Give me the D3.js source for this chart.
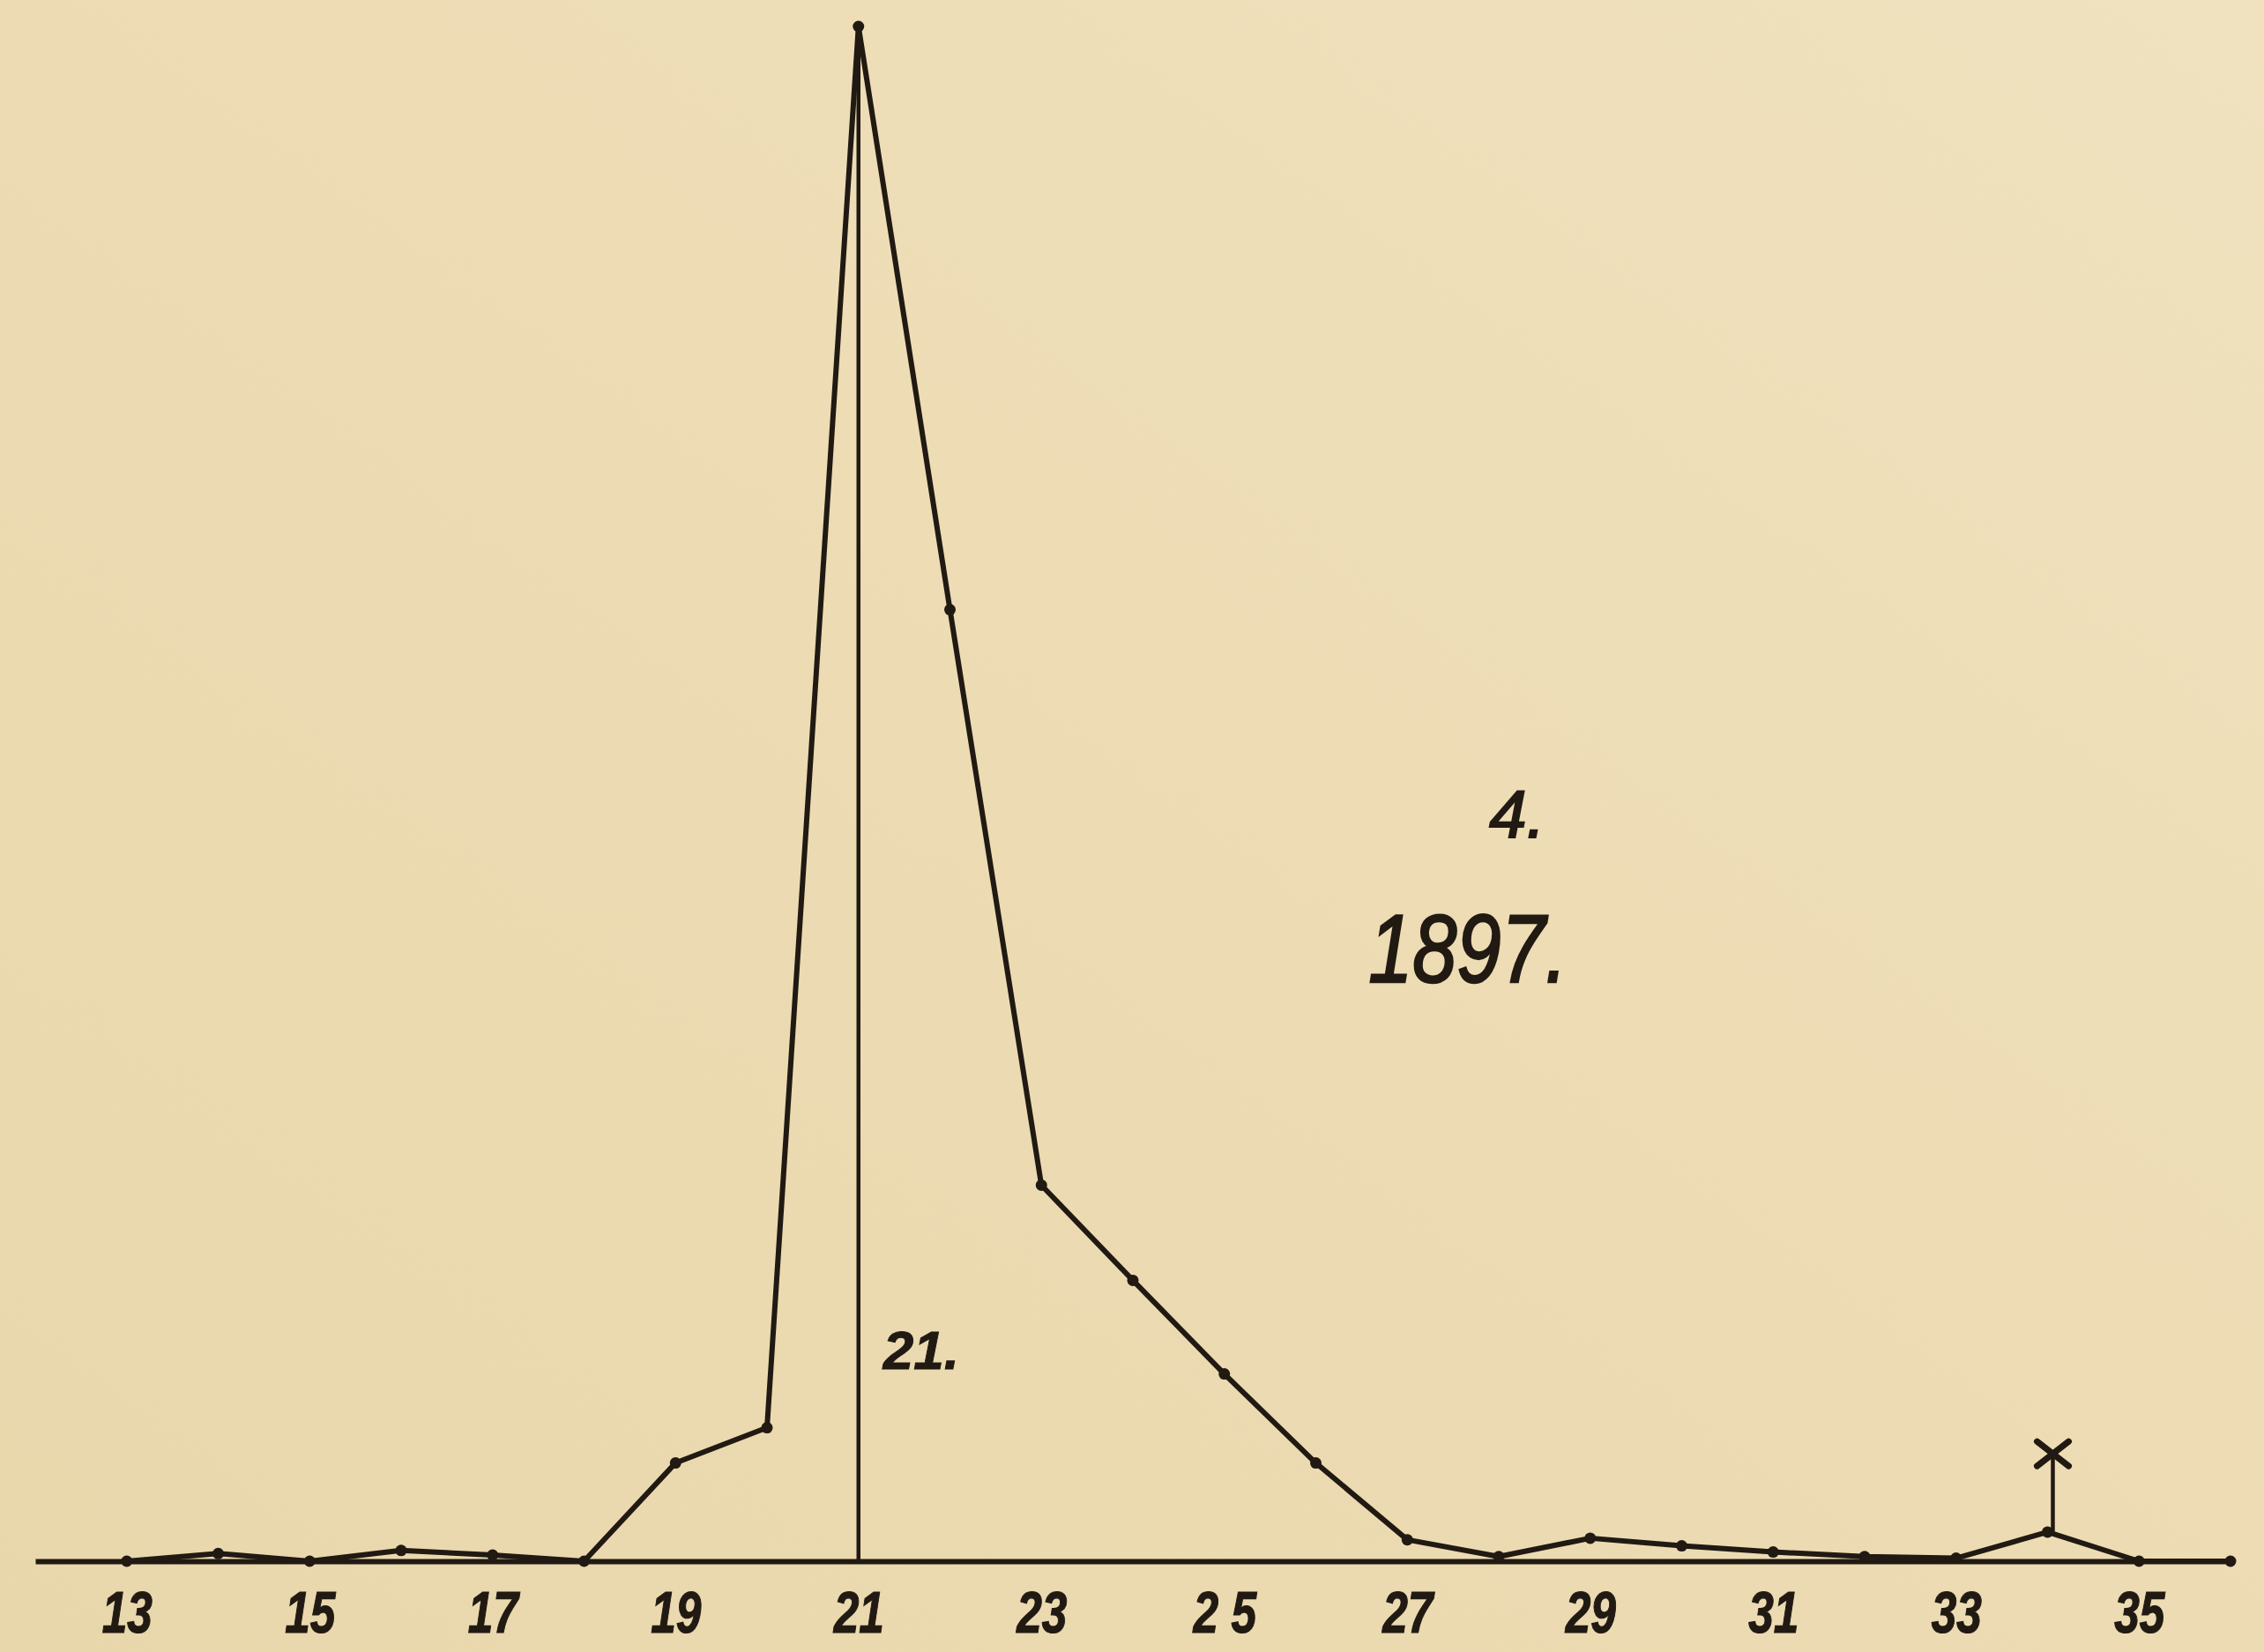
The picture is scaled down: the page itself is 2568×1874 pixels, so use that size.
<!DOCTYPE html>
<html>
<head>
<meta charset="utf-8">
<script src="https://cdn.jsdelivr.net/npm/d3@7"></script>
<style>
  html, body { margin: 0; padding: 0; background: #ecdcb4; }
  svg { display: block; }
</style>
</head>
<body>
<div id="chart"></div>
<script>
// data
const ages = [13, 14, 15, 16, 17, 18, 19, 20, 21, 22, 23, 24, 25, 26, 27, 28, 29, 30, 31, 32, 33, 34, 35, 36];
const counts = [0, 0.5, 0, 0.7, 0.4, 0, 6.4, 8.7, 100, 62, 24.5, 18.3, 12.2, 6.4, 1.4, 0.3, 1.5, 1.0, 0.6, 0.3, 0.2, 1.9, 0, 0];

const tickValues = [13, 15, 17, 19, 21, 23, 25, 27, 29, 31, 33, 35];
const tickLabels = ['13', '15', '17', '19', '21', '23', '2 5', '27', '29', '31', '33', '35'];

const modeAge = 21;
const modeLabel = '21.';
const crossAge = 34;
const crossTop = 7;

const figNumber = '4.';
const figYear = '1897.';

// svg size
let svgWidth = 2568,
    svgHeight = 1874;

let ink = '#211a13';

let svg = d3.select('#chart')
    .append('svg')
    .attr('width', svgWidth)
    .attr('height', svgHeight);

// paper background
let defs = svg.append('defs');
let grad = defs.append('linearGradient')
    .attr('id', 'paper')
    .attr('x1', '0%').attr('y1', '100%')
    .attr('x2', '100%').attr('y2', '0%');
grad.append('stop').attr('offset', '0%').attr('stop-color', '#e9d7ac');
grad.append('stop').attr('offset', '55%').attr('stop-color', '#eddcb4');
grad.append('stop').attr('offset', '100%').attr('stop-color', '#f0e2bf');

svg.append('rect')
    .attr('width', svgWidth)
    .attr('height', svgHeight)
    .attr('fill', 'url(#paper)');

// scales
let xScale = d3.scaleLinear()
    .domain([12, 36])
    .range([40, 2530]);

let yScale = d3.scaleLinear()
    .domain([0, 100])
    .range([1771, 30]);

// bottom axis (no ticks, only the base line and numbers)
let bottomAxis = d3.axisBottom(xScale)
    .tickValues(tickValues)
    .tickSize(0)
    .tickPadding(0)
    .tickFormat((d, i) => tickLabels[i]);

let axisG = svg.append('g')
    .attr('transform', `translate(0, ${yScale(0)})`)
    .call(bottomAxis);

axisG.select('.domain')
    .attr('stroke', ink)
    .attr('stroke-width', 6);

axisG.selectAll('.tick text')
    .attr('fill', ink)
    .attr('stroke', ink)
    .attr('stroke-width', 1.2)
    .attr('font-family', 'Liberation Sans, Arial, sans-serif')
    .attr('font-size', 66)
    .attr('font-weight', 'bold')
    .attr('font-style', 'italic')
    .attr('dy', null)
    .attr('y', 0)
    .attr('transform', 'translate(0, 81) scale(0.78, 1)');

// vertical line at the mode
svg.append('line')
    .attr('x1', xScale(modeAge))
    .attr('x2', xScale(modeAge))
    .attr('y1', yScale(0))
    .attr('y2', yScale(counts[ages.indexOf(modeAge)]))
    .attr('stroke', ink)
    .attr('stroke-width', 4.5);

svg.append('text')
    .attr('x', xScale(modeAge) + 28)
    .attr('y', 1553)
    .attr('fill', ink)
    .attr('stroke', ink)
    .attr('stroke-width', 1)
    .attr('font-family', 'Liberation Sans, Arial, sans-serif')
    .attr('font-size', 62)
    .attr('font-weight', 'bold')
    .attr('font-style', 'italic')
    .text(modeLabel);

// the curve
let line = d3.line()
    .x((d, i) => xScale(ages[i]))
    .y(d => yScale(d));

svg.append('path')
    .datum(counts)
    .attr('fill', 'none')
    .attr('stroke', ink)
    .attr('stroke-width', 6)
    .attr('stroke-linejoin', 'round')
    .attr('d', line);

svg.selectAll('.dot')
    .data(counts)
    .enter()
    .append('circle')
    .attr('class', 'dot')
    .attr('cx', (d, i) => xScale(ages[i]))
    .attr('cy', d => yScale(d))
    .attr('r', 6.5)
    .attr('fill', ink);

// small cross marker
let cx = xScale(crossAge) + 6;
svg.append('line')
    .attr('x1', cx).attr('x2', cx)
    .attr('y1', yScale(counts[ages.indexOf(crossAge)]))
    .attr('y2', yScale(crossTop))
    .attr('stroke', ink)
    .attr('stroke-width', 4.5);

let cy = yScale(crossTop);
svg.append('path')
    .attr('d', `M${cx - 18},${cy - 14}L${cx + 18},${cy + 14}M${cx - 18},${cy + 14}L${cx + 18},${cy - 14}`)
    .attr('stroke', ink)
    .attr('stroke-width', 7)
    .attr('stroke-linecap', 'round');

// figure number and year
svg.append('text')
    .attr('x', 1721)
    .attr('y', 950)
    .attr('text-anchor', 'middle')
    .attr('fill', ink)
    .attr('stroke', ink)
    .attr('stroke-width', 2)
    .attr('font-family', 'Liberation Sans, Arial, sans-serif')
    .attr('font-size', 76)
    .attr('font-style', 'italic')
    .text(figNumber);

svg.append('text')
    .attr('transform', 'translate(1665, 1114) scale(0.82, 1)')
    .attr('text-anchor', 'middle')
    .attr('fill', ink)
    .attr('stroke', ink)
    .attr('stroke-width', 2.5)
    .attr('font-family', 'Liberation Sans, Arial, sans-serif')
    .attr('font-size', 110)
    .attr('font-style', 'italic')
    .text(figYear);
</script>
</body>
</html>
